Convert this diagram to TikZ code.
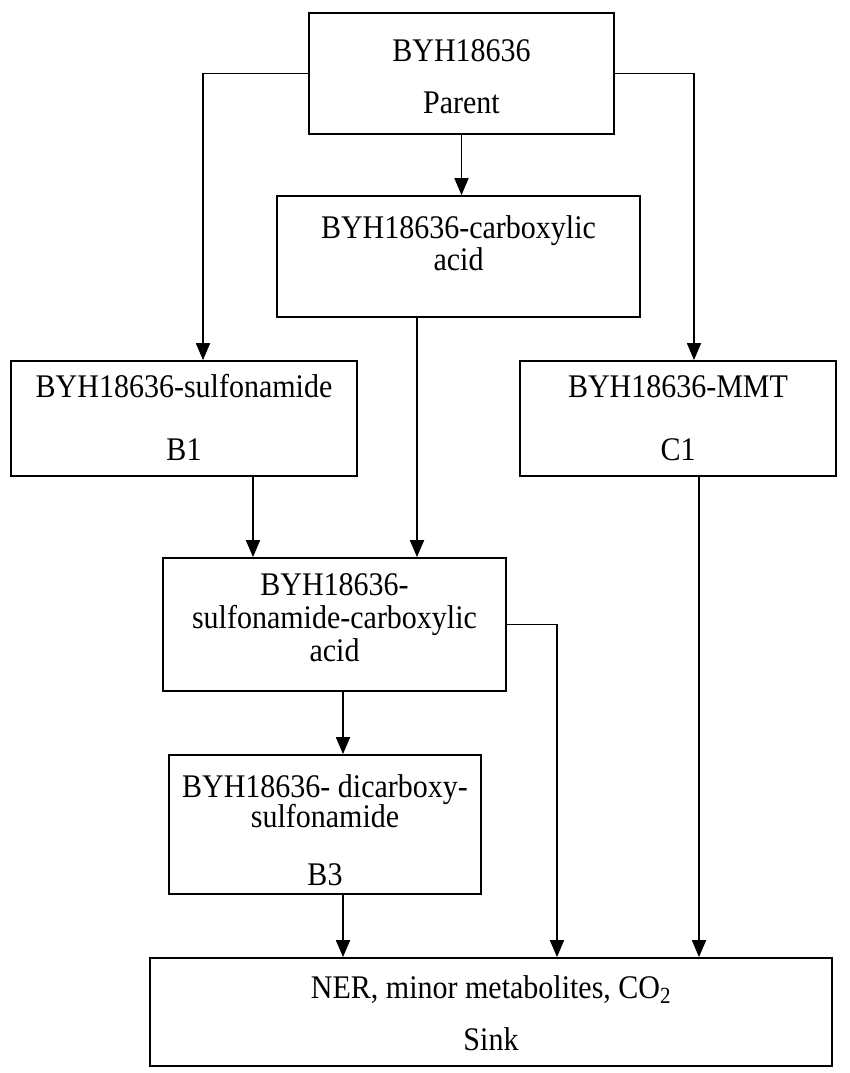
\documentclass[tikz,border=0pt]{standalone}
\usepackage{fontspec}
\usepackage{graphicx}
\setmainfont{Liberation Serif}
\usetikzlibrary{arrows.meta}
\newcommand{\tallt}[1]{\scalebox{1}[1.1]{#1}}
\tikzset{
  x=1pt, y=-1pt,
  box/.style={draw, line width=1.8pt, rectangle, inner sep=0pt, fill=white},
  lbl/.style={anchor=base, inner sep=0pt, font=\fontsize{30}{34}\selectfont},
  arr/.style={line width=1.8pt, -{Triangle[width=14pt,length=17pt]}}
}
\begin{document}
\begin{tikzpicture}
\path[use as bounding box] (0,0) rectangle (850,1073);
% boxes
\node[box, minimum width=305pt, minimum height=121pt] (parent) at (461.5,73.5) {};
\node[box, minimum width=363pt, minimum height=121pt] (carb) at (458.5,256.5) {};
\node[box, minimum width=346pt, minimum height=115pt] (sulf) at (184,418.5) {};
\node[box, minimum width=316pt, minimum height=115pt] (mmt) at (678,418.5) {};
\node[box, minimum width=343pt, minimum height=133pt] (sc) at (334.5,624.5) {};
\node[box, minimum width=312pt, minimum height=139pt] (dic) at (325,824.5) {};
\node[box, minimum width=682pt, minimum height=108pt] (sink) at (491,1012) {};
% texts
\node[lbl] (t1) at (461.5,62) {\tallt{BYH18636}};
\node[lbl] (t2) at (461.5,113) {\tallt{Parent}};
\node[lbl] (t3) at (458.5,238) {\tallt{BYH18636-carboxylic}};
\node[lbl] (t4) at (458.5,270) {\tallt{acid}};
\node[lbl] (t5) at (184,397) {\tallt{BYH18636-sulfonamide}};
\node[lbl] (t6) at (184,460) {\tallt{B1}};
\node[lbl] (t7) at (678,397) {\tallt{BYH18636-MMT}};
\node[lbl] (t8) at (678,460) {\tallt{C1}};
\node[lbl] (t9) at (334.5,595) {\tallt{BYH18636-}};
\node[lbl] (t10) at (334.5,628) {\tallt{sulfonamide-carboxylic}};
\node[lbl] (t11) at (334.5,661) {\tallt{acid}};
\node[lbl] (t12) at (325,797) {\tallt{BYH18636- dicarboxy-}};
\node[lbl] (t13) at (325,827) {\tallt{sulfonamide}};
\node[lbl] (t14) at (325,885) {\tallt{B3}};
\node[lbl] (t15) at (491,998) {\tallt{NER, minor metabolites, CO\textsubscript{2}}};
\node[lbl] (t16) at (491,1050) {\tallt{Sink}};
% helper x positions
\coordinate (lx) at (203,0);
\coordinate (rx) at (694,0);
\coordinate (cx) at (417,0);
\coordinate (bx) at (253,0);
\coordinate (dx) at (343,0);
\coordinate (ex) at (557,0);
\coordinate (mx) at (699,0);
% connectors
\draw[arr] (parent.west) -| (sulf.north -| lx);
\draw[arr] (parent.east) -| (mmt.north -| rx);
\draw[arr] (parent.south) -- (carb.north -| parent.south);
\draw[arr] (carb.south -| cx) -- (sc.north -| cx);
\draw[arr] (sulf.south -| bx) -- (sc.north -| bx);
\draw[arr] (sc.south -| dx) -- (dic.north -| dx);
\draw[arr] (dic.south -| dx) -- (sink.north -| dx);
\draw[arr] (sc.east) -| (sink.north -| ex);
\draw[arr] (mmt.south -| mx) -- (sink.north -| mx);
\end{tikzpicture}
\end{document}
